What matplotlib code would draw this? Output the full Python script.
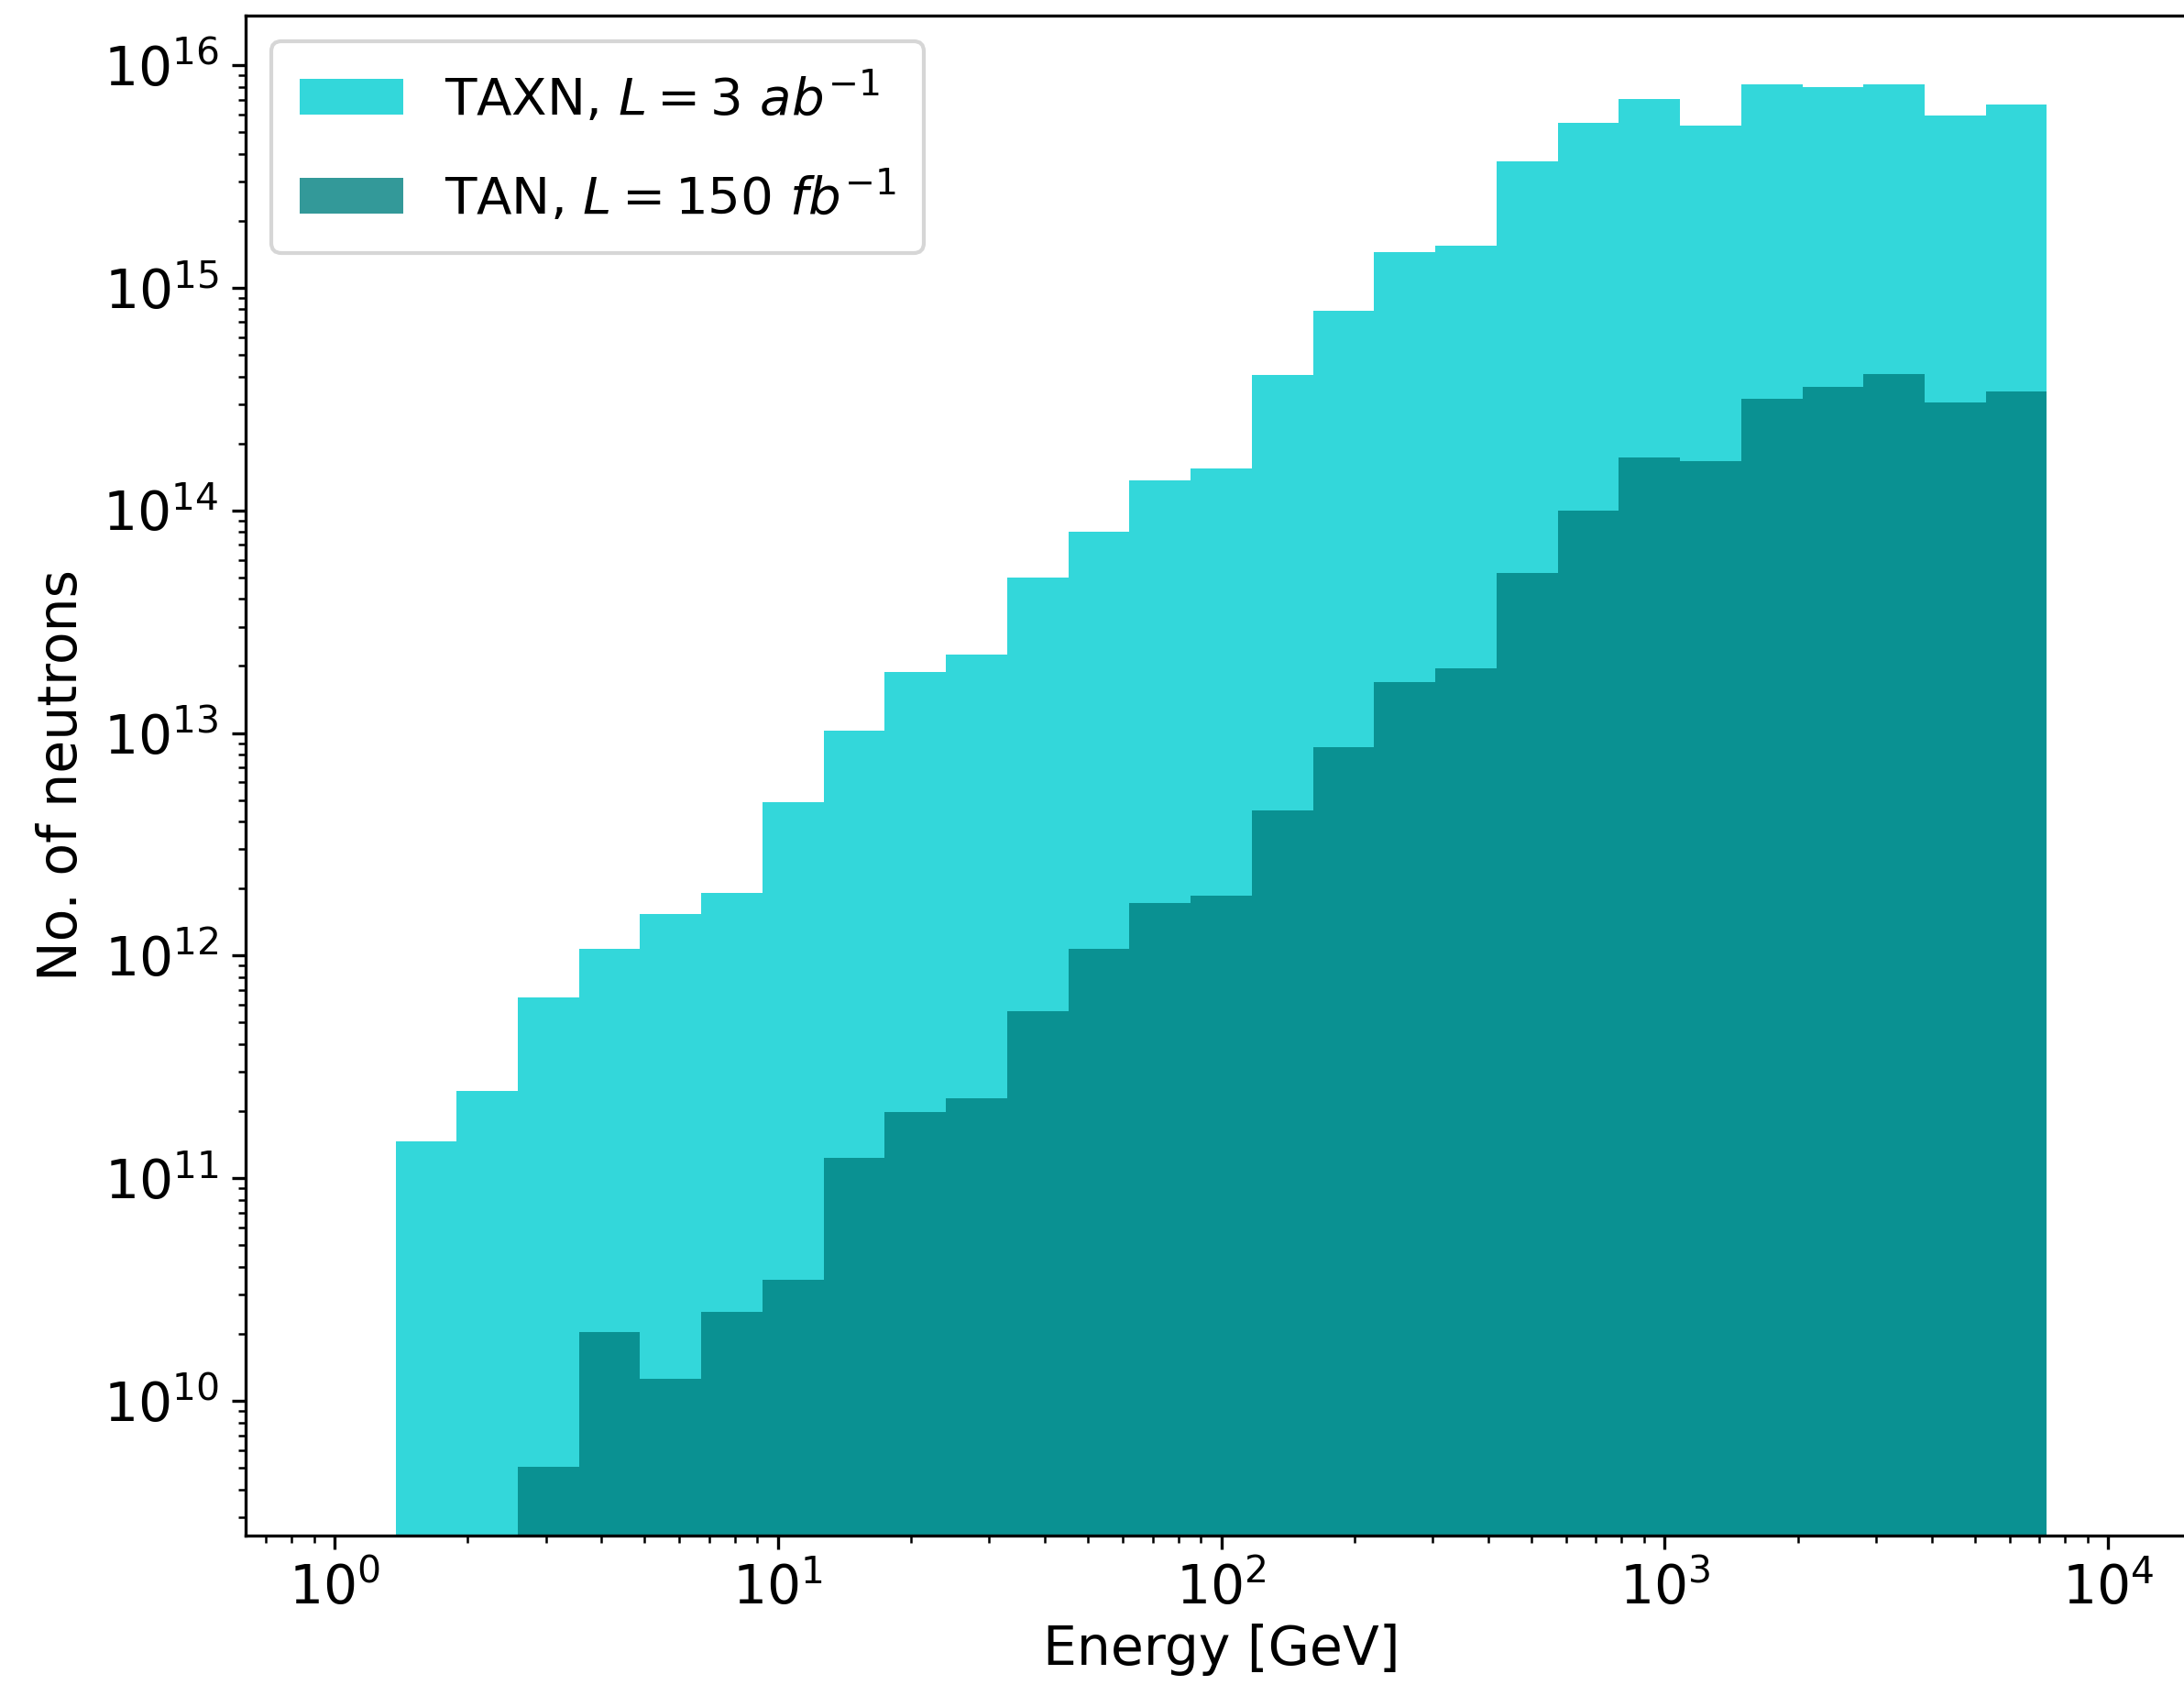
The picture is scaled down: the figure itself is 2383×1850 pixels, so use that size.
import numpy as np
import matplotlib
matplotlib.use('Agg')
import matplotlib.pyplot as plt

# 29 log-spaced energy bins from 1 GeV to 10 TeV
bin_edges = np.logspace(0, 4, 30)

# counts per bin (0 = empty bin)
taxn_counts = [0, 1.47e11, 2.47e11, 6.5e11, 1.07e12, 1.54e12, 1.92e12, 4.9e12,
               1.02e13, 1.88e13, 2.26e13, 5.0e13, 8.05e13, 1.37e14, 1.54e14,
               4.06e14, 7.88e14, 1.45e15, 1.55e15, 3.69e15, 5.53e15, 7.07e15,
               5.37e15, 8.17e15, 7.94e15, 8.17e15, 5.94e15, 6.67e15, 0]
tan_counts = [0, 0, 0, 5.07e9, 2.03e10, 1.26e10, 2.52e10, 3.51e10,
              1.23e11, 1.99e11, 2.29e11, 5.6e11, 1.07e12, 1.73e12, 1.86e12,
              4.49e12, 8.6e12, 1.69e13, 1.96e13, 5.22e13, 1.0e14, 1.73e14,
              1.66e14, 3.18e14, 3.57e14, 4.11e14, 3.04e14, 3.41e14, 0]

labels = [r'TAXN, $L = 3\ ab^{-1}$', r'TAN, $L = 150\ fb^{-1}$']

centers = np.sqrt(bin_edges[:-1] * bin_edges[1:])

fig = plt.figure(figsize=(2383 / 300, 1850 / 300), dpi=300)
# the original image cuts off the right spine, so the axes run past the edge
ax = fig.add_axes([268 / 2383, 175 / 1850, 2129 / 2383, 1658 / 1850])

ax.hist(centers, bins=bin_edges, weights=taxn_counts, log=True,
        color='darkturquoise', alpha=0.8, label=labels[0])
ax.hist(centers, bins=bin_edges, weights=tan_counts, log=True,
        color='teal', alpha=0.8, label=labels[1])
ax.set_xscale('log')

ax.set_xlabel('Energy [GeV]', fontsize=14, labelpad=2)
ax.set_ylabel('No. of neutrons', fontsize=14)
ax.tick_params(axis='both', which='major', labelsize=14)
ax.legend(loc='upper left', fontsize=13.5, labelspacing=0.84, borderpad=0.55)

fig.savefig('out.png', dpi=300)
